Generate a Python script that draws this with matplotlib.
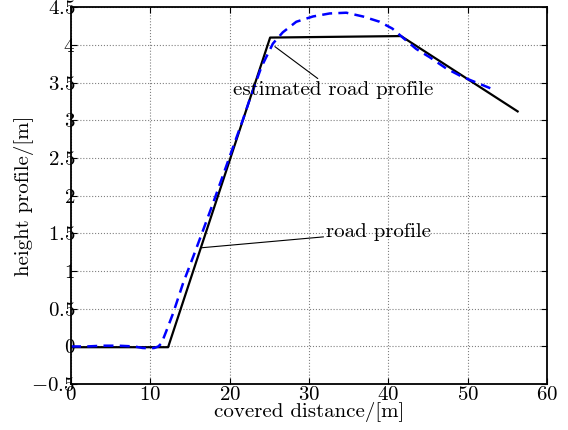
import matplotlib
matplotlib.use("Agg")
import matplotlib.pyplot as plt

plt.rcParams['font.family'] = ['cmr10', 'DejaVu Serif']
plt.rcParams['mathtext.fontset'] = 'cm'
plt.rcParams['axes.formatter.use_mathtext'] = True
plt.rcParams['font.size'] = 15

# perfil real de la ruta (tramos rectos)
x_ruta = [0, 12.24, 25.1, 41.6, 56.3]
y_ruta = [-0.01, -0.01, 4.10, 4.12, 3.12]

# perfil estimado (curva punteada)
x_est = [0, 2, 4, 6, 8, 9, 10, 10.5, 11.0, 11.4, 12.0, 12.87, 14.13, 15.4, 16.64,
         17.9, 18.95, 20.0, 21.7, 22.5, 24.0, 25.45, 26.7, 28.4, 30.5, 32.6,
         34.7, 36.8, 38.9, 40.5, 41.6, 43.5, 45.2, 47.3, 49.3, 51.4, 53.5]
y_est = [0, 0, 0.01, 0.01, 0, -0.02, -0.025, -0.02, 0.0, 0.04, 0.2, 0.44, 0.84,
         1.19, 1.54, 1.90, 2.21, 2.52, 3.02, 3.27, 3.71, 4.02, 4.17, 4.31, 4.38,
         4.42, 4.43, 4.38, 4.31, 4.22, 4.12, 3.95, 3.84, 3.69, 3.58, 3.49, 3.40]

xticks = [0, 10, 20, 30, 40, 50, 60]
xlabels = ['$0$', '$10$', '$20$', '$30$', '$40$', '$50$', '$60$']
yticks = [-0.5, 0, 0.5, 1, 1.5, 2, 2.5, 3, 3.5, 4, 4.5]
ylabels = ['$-0.5$', '$0$', '$0.5$', '$1$', '$1.5$', '$2$', '$2.5$', '$3$',
           '$3.5$', '$4$', '$4.5$']

fig = plt.figure(figsize=(5.68, 4.30), dpi=100)
ax = fig.add_axes([0.125, 0.1067, 0.838, 0.876])

ax.plot(x_ruta, y_ruta, color='black', lw=1.6)
ax.plot(x_est, y_est, color='blue', lw=1.8, ls=(0, (4, 2.5)))

ax.set_xlim(0, 60)
ax.set_ylim(-0.5, 4.5)
ax.set_xticks(xticks, xlabels)
ax.set_yticks(yticks, ylabels)
ax.grid(True, ls=':', color='gray', lw=0.8)
ax.tick_params(direction='in', top=True, right=True, length=4)
ax.tick_params(axis='y', pad=-3)
ax.tick_params(axis='x', pad=1)
for s in ax.spines.values():
    s.set_linewidth(1.3)

ax.set_xlabel('covered distance/[m]', labelpad=-1)
ax.set_ylabel('height profile/[m]', labelpad=-2)

ax.annotate('estimated road profile', xy=(25.7, 3.98), xytext=(33.1, 3.40),
            ha='center', va='center',
            arrowprops=dict(arrowstyle='-', lw=0.8, color='black', shrinkA=0, shrinkB=0))
ax.annotate('road profile', xy=(16.45, 1.31), xytext=(38.8, 1.52),
            ha='center', va='center',
            arrowprops=dict(arrowstyle='-', lw=0.8, color='black', shrinkA=0, shrinkB=0))

fig.savefig('out.png', dpi=100)
